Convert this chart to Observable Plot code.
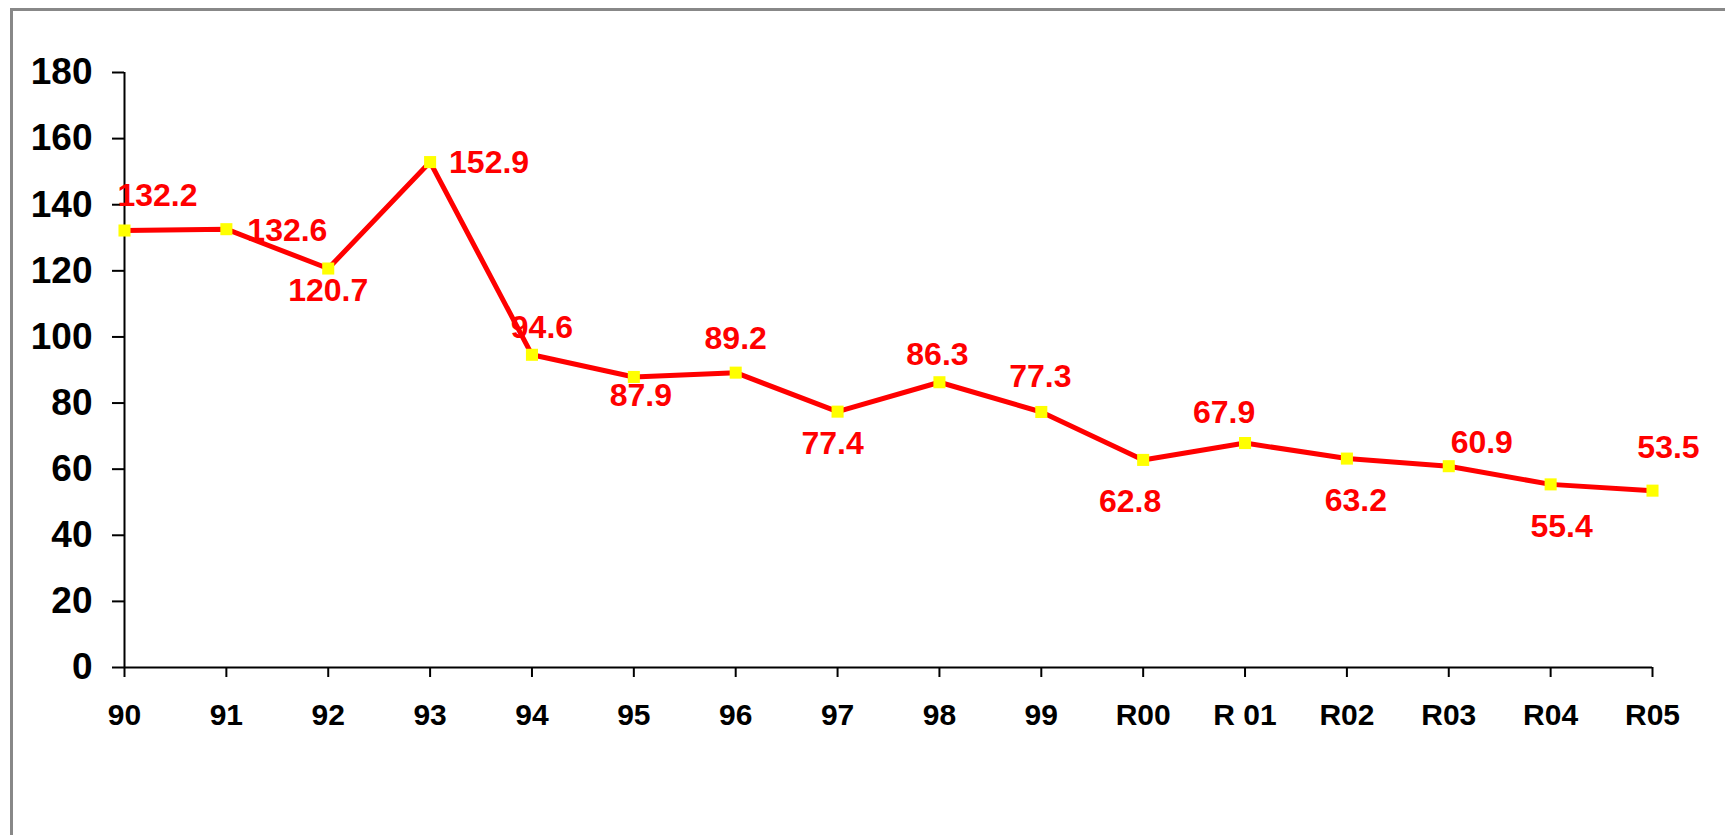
<!DOCTYPE html>
<html>
<head>
<meta charset="utf-8">
<script src="https://cdn.jsdelivr.net/npm/d3@7"></script>
<script src="https://cdn.jsdelivr.net/npm/@observablehq/plot@0.6"></script>
<style>
  html, body { margin: 0; padding: 0; background: #fff; }
  #wrap { position: relative; width: 1725px; height: 835px; overflow: hidden; }
  #frame { position: absolute; left: 10px; top: 8px; right: -10px; bottom: -10px;
           border-top: 3px solid #888; border-left: 3px solid #888; }
  #chart { position: absolute; left: 0; top: 0; }
</style>
</head>
<body>
<div id="wrap"><div id="frame"></div><div id="chart"></div></div>
<script>
// Data
const years = ["90","91","92","93","94","95","96","97","98","99","R00","R 01","R02","R03","R04","R05"];
const values = [132.2,132.6,120.7,152.9,94.6,87.9,89.2,77.4,86.3,77.3,62.8,67.9,63.2,60.9,55.4,53.5];
const yTicks = [0,20,40,60,80,100,120,140,160,180];

// Label placement offsets (layout only)
const labelDx = [33,61,0,59,10,7,0,-5,-2,-1,-13,-21,9,33,11,16];
const labelDy = [-35,2,22,1,-27,19,-34,32,-27,-35,42,-30,42,-23,42,-43];

const data = years.map((y, i) => ({year: y, value: values[i]}));
const font = "'Liberation Sans', Arial, sans-serif";

const labelMarks = data.map((d, i) => Plot.text([d], {
  x: "year", y: "value", text: d => d.value.toFixed(1),
  dx: labelDx[i], dy: labelDy[i],
  fill: "#ff0000", fontSize: 32, fontWeight: "bold", textAnchor: "middle"
}));

const chart = Plot.plot({
  width: 1725,
  height: 835,
  marginLeft: 124,
  marginRight: 73,
  marginTop: 72,
  marginBottom: 168,
  style: {fontFamily: font, background: "transparent", color: "#000", overflow: "visible"},
  x: {type: "point", domain: years, padding: 0, round: false},
  y: {domain: [0, 180], round: false},
  marks: [
    Plot.axisY({ticks: yTicks, tickSize: 12, tickPadding: 20, fontSize: 37, fontWeight: "bold",
                stroke: "#000", strokeWidth: 2, label: null, tickFormat: d => String(d)}),
    Plot.axisX({tickSize: 10, tickPadding: 26, fontSize: 30, fontWeight: "bold",
                stroke: "#000", strokeWidth: 2, label: null}),
    Plot.ruleY([0], {stroke: "#000", strokeWidth: 2}),
    Plot.ruleX([years[0]], {stroke: "#000", strokeWidth: 2}),
    Plot.line(data, {x: "year", y: "value", stroke: "#ff0000", strokeWidth: 5}),
    Plot.dot(data, {x: "year", y: "value", symbol: "square", r: 6.8, fill: "#ffff00", stroke: "none"}),
    ...labelMarks
  ]
});
document.getElementById("chart").appendChild(chart);
</script>
</body>
</html>
